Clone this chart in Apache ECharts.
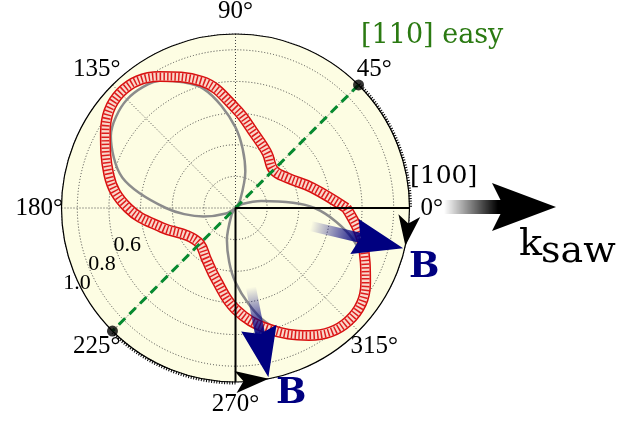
<!DOCTYPE html>
<html>
<head>
<meta charset="utf-8">
<script src="https://cdn.jsdelivr.net/npm/echarts@6/dist/echarts.min.js"></script>
<style>
html, body { margin: 0; padding: 0; background: #fff; }
#main { width: 636px; height: 421px; }
</style>
</head>
<body>
<div id="main"></div>
<script>
// measured absorption (red rings), read every 15 degrees
var angles = [0, 15, 30, 45, 60, 75, 90, 105, 120, 135, 150, 165, 180,
              195, 210, 225, 240, 255, 270, 285, 300, 315, 330, 345, 360];
var measured = [0.70, 0.50, 0.38, 0.34, 0.40, 0.48, 0.63, 0.83, 0.96, 1.03, 0.95, 0.83, 0.68,
                0.48, 0.35, 0.32, 0.37, 0.47, 0.64, 0.79, 0.93, 1.01, 0.95, 0.83, 0.70];
// model curve (grey), two lobes starting at the easy axis
var modelAngles = [45, 60, 75, 90, 105, 120, 135, 150, 165, 180, 195, 210, 225,
                   240, 255, 270, 285, 300, 315, 330, 345, 360, 15, 30, 45];
var modelValues = [0, 0.06, 0.24, 0.51, 0.78, 0.93, 0.97, 0.91, 0.74, 0.44, 0.21, 0.07, 0,
                   0.05, 0.21, 0.47, 0.75, 0.93, 1.02, 0.96, 0.77, 0.50, 0.17, 0.05, 0];
var angleTicks = [0, 45, 90, 135, 180, 225, 270, 315];
var radialTicks = [0.6, 0.8, 1.0];
var easyAxis = [45, 225];
var rMax = 1.1;
// field B directions: [angle, tail radius, tip radius]
var fieldArrows = [[346.5, 0.49, 1.09], [281, 0.51, 1.09]];
// rotation arrows along the rim: [from angle, to angle]
var rimArrows = [[357.5, 347.5], [270, 281]];

var serif = 'Liberation Serif';
var vera = 'DejaVu Serif';
var navy = '#000080';

var redData = angles.map(function (a, i) { return [measured[i], a]; });
var greyData = modelAngles.map(function (a, i) { return [modelValues[i], a]; });

var chart = echarts.init(document.getElementById('main'));

function band(width, color, dash, z) {
    return {
        type: 'line', coordinateSystem: 'polar', data: redData, smooth: 0.4,
        symbol: 'none', silent: true, z: z,
        lineStyle: { width: width, color: color, type: dash || 'solid' }
    };
}

var gridLine = { show: true, lineStyle: { color: '#444', type: [1, 2], width: 1 } };

var option = {
    animation: false,
    polar: { center: [235.5, 208], radius: 174 },
    angleAxis: {
        type: 'value', min: 0, max: 360, interval: 45, startAngle: 0, clockwise: false,
        axisLine: { show: true, lineStyle: { color: '#000', width: 1.2 } },
        axisTick: { show: false },
        axisLabel: { show: false },
        splitLine: gridLine
    },
    radiusAxis: {
        min: 0, max: rMax, interval: 0.2,
        axisLine: { show: false }, axisTick: { show: false }, axisLabel: { show: false },
        splitLine: gridLine,
        splitArea: { show: true, areaStyle: { color: ['#fdfde3'] } }
    },
    series: [
        {
            type: 'line', coordinateSystem: 'polar', data: greyData, smooth: 0.3,
            symbol: 'none', z: 2,
            lineStyle: { width: 2.5, color: '#8c8c8c' }
        },
        band(11, '#d81010', null, 3),
        band(8, '#f9d8cb', null, 4),
        band(8, '#de1c1c', [1.5, 2.2], 5),
        {
            type: 'line', coordinateSystem: 'polar', symbol: 'none', z: 6,
            data: easyAxis.map(function (a) { return [rMax, a]; }),
            lineStyle: { width: 3, color: '#078a30', type: [9, 6] }
        },
        {
            type: 'line', coordinateSystem: 'polar', symbol: 'none', z: 7,
            data: [[rMax, 0], [0, 0], [0, 270], [rMax, 270]],
            lineStyle: { width: 2, color: '#000' }
        },
        {
            type: 'scatter', coordinateSystem: 'polar', z: 8, symbolSize: 11,
            data: easyAxis.map(function (a) { return [rMax, a]; }),
            itemStyle: { color: '#000' }
        }
    ]
};
chart.setOption(option);

function px(r, a) {
    return chart.convertToPixel({ polarIndex: 0 }, [r, a]);
}

// arrow head with a notched back, tip at t, pointing along unit vector (ux, uy)
function head(t, ux, uy, len, half, notch, color, z) {
    var bx = t[0] - ux * len, by = t[1] - uy * len;
    var nx = -uy, ny = ux;
    return {
        type: 'polygon', z: z,
        shape: { points: [
            t,
            [bx + nx * half, by + ny * half],
            [bx + ux * notch, by + uy * notch],
            [bx - nx * half, by - ny * half]
        ] },
        style: { fill: color }
    };
}

function txt(x, y, s, size, color, opts) {
    opts = opts || {};
    return {
        type: 'text', z: 20, x: x, y: y,
        style: {
            text: s, fill: color, fontFamily: opts.family || vera, fontSize: size,
            fontWeight: opts.weight || 'normal', align: opts.align || 'left', verticalAlign: 'middle'
        }
    };
}

var graphics = [];
var c = px(0, 0);
var rim = px(rMax, 0);
var R = Math.sqrt(Math.pow(rim[0] - c[0], 2) + Math.pow(rim[1] - c[1], 2));

// radial rings (drawn here as well, in case the axis split lines are skipped)
for (var v = 0.2; v < rMax - 0.05; v += 0.2) {
    var q = px(v, 0);
    graphics.push({
        type: 'circle', z: 1,
        shape: { cx: c[0], cy: c[1], r: q[0] - c[0] },
        style: { stroke: '#444', lineWidth: 1, lineDash: [1, 2], fill: null }
    });
}

// tick-like rim segments
[[-Math.PI / 4, 0], [Math.PI / 2, Math.PI * 3 / 4]].forEach(function (s) {
    graphics.push({
        type: 'arc', z: 9,
        shape: { cx: c[0], cy: c[1], r: R + 1, startAngle: s[0], endAngle: s[1], clockwise: true },
        style: { stroke: '#000', lineWidth: 3, lineDash: [1, 1.6], fill: null }
    });
});

// tick labels
angleTicks.forEach(function (a) {
    var p = px(1.24, a);
    graphics.push(txt(p[0], p[1], a + '°', 25, '#000', { family: serif, align: 'center' }));
});
radialTicks.forEach(function (v) {
    var p = px(v, 217.5);
    graphics.push(txt(p[0] - 33, p[1] - 21, v.toFixed(1), 22, '#000', { family: serif, align: 'center' }));
});

// field arrows
fieldArrows.forEach(function (f) {
    var tail = px(f[1], f[0]), tip = px(f[2], f[0]);
    var dx = tip[0] - tail[0], dy = tip[1] - tail[1];
    var L = Math.sqrt(dx * dx + dy * dy), ux = dx / L, uy = dy / L;
    var base = [tip[0] - ux * 44, tip[1] - uy * 44];
    graphics.push({
        type: 'line', z: 10,
        shape: { x1: tail[0], y1: tail[1], x2: base[0], y2: base[1] },
        style: {
            lineWidth: 10,
            stroke: {
                type: 'linear', global: true, x: tail[0], y: tail[1], x2: base[0], y2: base[1],
                colorStops: [{ offset: 0, color: 'rgba(0,0,128,0)' }, { offset: 1, color: 'rgba(0,0,128,0.95)' }]
            }
        }
    });
    graphics.push(head(tip, ux, uy, 50, 18, 6, navy, 11));
});

// rotation arrows on the rim
rimArrows.forEach(function (a) {
    var from = px(rMax, a[0]), tip = px(rMax, a[1]);
    var dx = tip[0] - from[0], dy = tip[1] - from[1];
    var L = Math.sqrt(dx * dx + dy * dy);
    graphics.push(head(tip, dx / L, dy / L, L, 11, 8, '#000', 12));
});

// k_saw arrow
graphics.push({
    type: 'rect', z: 10,
    shape: { x: 444, y: 200, width: 60, height: 14 },
    style: {
        fill: {
            type: 'linear', x: 0, y: 0, x2: 1, y2: 0,
            colorStops: [{ offset: 0, color: 'rgba(0,0,0,0)' }, { offset: 0.9, color: '#000' }, { offset: 1, color: '#000' }]
        }
    }
});
graphics.push(head([556, 207], 1, 0, 64, 24, 12, '#000', 11));

// annotation texts
graphics.push(txt(361, 36, '[110] easy', 27, '#2b7a12'));
graphics.push(txt(410, 176, '[100]', 25, '#000'));
graphics.push(txt(409, 268, 'B', 36, navy, { weight: 'bold' }));
graphics.push(txt(276, 394, 'B', 36, navy, { weight: 'bold' }));
graphics.push(txt(519, 245, 'k', 38, '#000'));
graphics.push(txt(541, 252, 'saw', 38, '#000'));

chart.setOption({ graphic: { elements: graphics } });

window.addEventListener('resize', function () {
    chart.resize();
});
</script>
</body>
</html>
